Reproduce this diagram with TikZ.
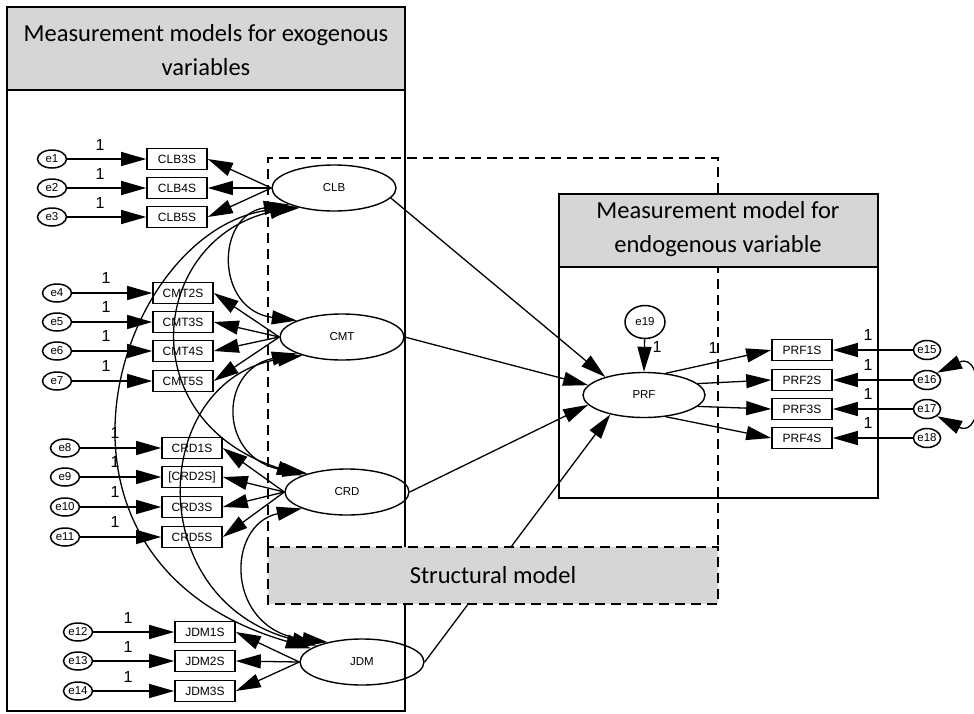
\documentclass[tikz,border=0pt]{standalone}
\usepackage{fontspec}
\setmainfont{Carlito}
\newfontfamily\arialf{Liberation Sans}
\usetikzlibrary{arrows.meta,shapes.geometric}
\begin{document}
\begin{tikzpicture}[x=1pt,y=-1pt,
  hdr/.style={font=\fontsize{24.5}{34}\selectfont, align=center, inner sep=0pt},
  obs/.style={draw, line width=1.6pt, minimum width=60pt, minimum height=21pt, inner sep=0pt, font=\arialf\fontsize{12}{12}\selectfont},
  lat/.style={draw, ellipse, line width=1.4pt, minimum width=124pt, minimum height=46pt, inner sep=0pt, font=\arialf\fontsize{11.5}{12}\selectfont},
  err/.style={draw, ellipse, line width=1.5pt, minimum width=29pt, minimum height=18pt, inner sep=0pt, font=\arialf\fontsize{11.5}{11}\selectfont},
  one/.style={font=\arialf\fontsize{16}{16}\selectfont, inner sep=0pt},
  tip/.tip={Triangle[length=25pt,width=14pt]},
  arr/.style={line width=1.3pt, -tip},
  cov/.style={line width=1.3pt, tip-tip},
  frame/.style={line width=2.2pt},
  dframe/.style={line width=2.2pt, dash pattern=on 10pt off 6pt},
]
\useasboundingbox (0,0) rectangle (974,713);

% structural model dashed outline
\draw[dframe] (268,547) -- (268,158) -- (718,158) -- (718,547);

% left measurement box
\draw[frame] (7,7) rectangle (405,711);
\filldraw[frame, fill=black!16] (7,7) rectangle (405,90);
\node[hdr] (hL) at (206,50) {Measurement models for exogenous\\variables};

% right measurement box
\draw[frame] (559,194) rectangle (878,498);
\filldraw[frame, fill=black!16] (559,194) rectangle (878,267);
\node[hdr] (hR) at (718,229) {Measurement model for\\endogenous variable};

% latent variables
\node[lat] (CLB) at (334,188) {CLB};
\node[lat] (CMT) at (342,337) {CMT};
\node[lat] (CRD) at (347,492) {CRD};
\node[lat] (JDM) at (362,662) {JDM};
\node[lat, minimum width=122pt, minimum height=45pt] (PRF) at (644,395) {PRF};

% indicators and errors, left
\foreach \n/\e/\y in {CLB3S/e1/159, CLB4S/e2/188, CLB5S/e3/217}{
  \node[obs] (\n) at (177,\y) {\n};
  \node[err] (\e) at (52,\y) {\e};
  \draw[arr] (\e) -- (\n);
  \node[one] at (100,\y-14) {1};
  \draw[arr] (CLB.west) -- (\n.east);
}
\foreach \n/\e/\y in {CMT2S/e4/293, CMT3S/e5/322, CMT4S/e6/351, CMT5S/e7/381}{
  \node[obs] (\n) at (183,\y) {\n};
  \node[err] (\e) at (57,\y) {\e};
  \draw[arr] (\e) -- (\n);
  \node[one] at (106,\y-15) {1};
  \draw[arr] (CMT.west) -- (\n.east);
}
\foreach \n/\t/\e/\y in {CRD1S/CRD1S/e8/448, CRD2S/[CRD2S]/e9/477, CRD3S/CRD3S/e10/507, CRD5S/CRD5S/e11/537}{
  \node[obs] (\n) at (192,\y) {\t};
  \node[err] (\e) at (65,\y) {\e};
  \draw[arr] (\e) -- (\n);
  \node[one] at (115,\y-15) {1};
  \draw[arr] (CRD.west) -- (\n.east);
}
\foreach \n/\e/\y in {JDM1S/e12/632, JDM2S/e13/661, JDM3S/e14/691}{
  \node[obs] (\n) at (205,\y) {\n};
  \node[err] (\e) at (78,\y) {\e};
  \draw[arr] (\e) -- (\n);
  \node[one] at (128,\y-14) {1};
  \draw[arr] (JDM.west) -- (\n.east);
}

% covariances
\draw[cov] (CLB.200) .. controls (215,215) and (215,310) .. (CMT.160);
\draw[cov] (CMT.200) .. controls (218,370) and (218,460) .. (CRD.155);
\draw[cov] (CRD.200) .. controls (225,525) and (225,630) .. (JDM.150);
\draw[cov] (CLB.205) .. controls (150,240) and (130,420) .. (CRD.160);
\draw[cov] (CMT.205) .. controls (150,380) and (140,600) .. (JDM.160);
\draw[cov] (CLB.210) .. controls (120,220) and (5,560) .. (JDM.165);

% structural paths
\draw[arr] (CLB.-10) -- (PRF.155);
\draw[arr] (CMT.east) -- (PRF.170);
\draw[arr] (CRD.east) -- (PRF.190);
\draw[arr] (JDM.east) -- (PRF.210);

% endogenous part
\node[err, minimum width=40pt, minimum height=33pt] (e19) at (645,322) {e19};
\draw[arr] (e19) -- (PRF.north);
\node[one] (l19) at (657,347) {1};
\node[one] (lP) at (713,348) {1};
\foreach \n/\e/\y/\a in {PRF1S/e15/350/45, PRF2S/e16/380/12, PRF3S/e17/409/-12, PRF4S/e18/438/-45}{
  \node[obs] (\n) at (802,\y) {\n};
  \node[err, minimum width=27pt, minimum height=19pt] (\e) at (927,\y) {\e};
  \draw[arr] (\e) -- (\n);
  \node[one] at (868,\y-15) {1};
  \draw[arr] (PRF.\a) -- (\n.west);
}
\draw[cov] (e16.north east) .. controls (985,350) and (985,440) .. (e17.south east);

% structural model label box
\filldraw[dframe, fill=black!16] (268,547) rectangle (718,604);
\node[hdr] (hS) at (493,575) {Structural model};
\end{tikzpicture}
\end{document}
